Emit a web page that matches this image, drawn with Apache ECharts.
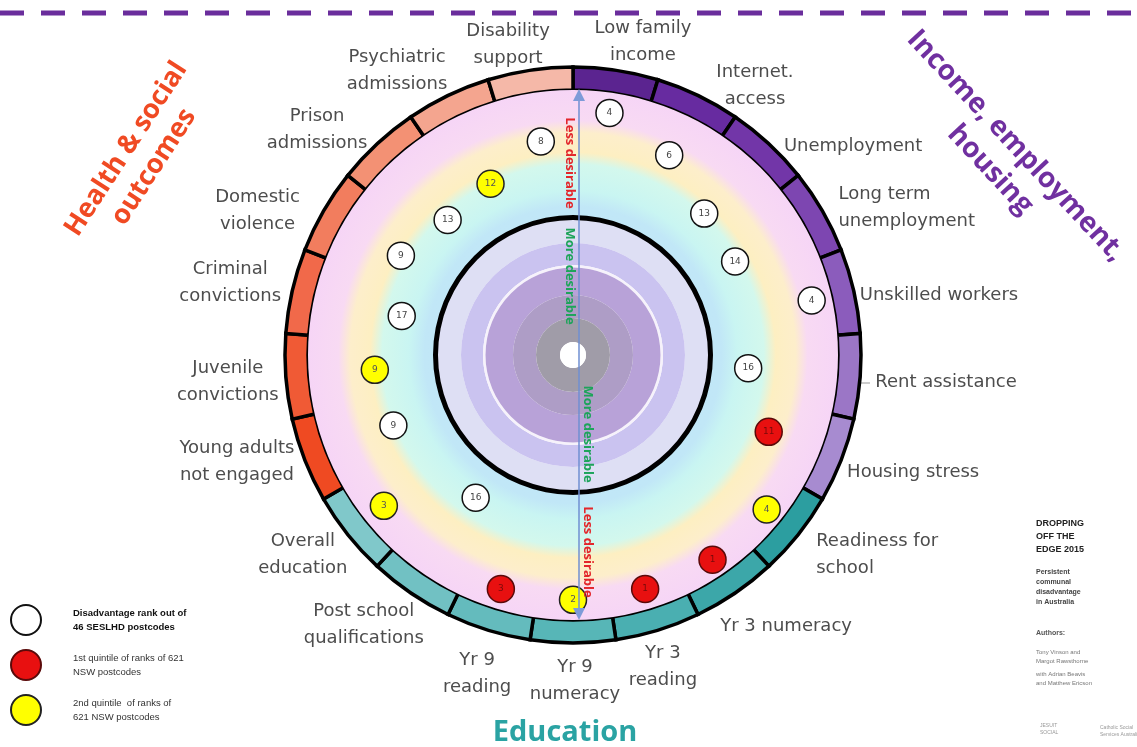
<!DOCTYPE html>
<html>
<head>
<meta charset="utf-8">
<script src="https://cdn.jsdelivr.net/npm/echarts@6/dist/echarts.min.js"></script>
<style>
html,body{margin:0;padding:0;background:#fff}
#main{width:1137px;height:747px}
</style>
</head>
<body>
<div id="main"></div>
<script>
var chartDom = document.getElementById('main');
var myChart = echarts.init(chartDom, null, { width: 1137, height: 747 });

// 21 indicators, clockwise from the top
var indicators = [
    'Low family\nincome', 'Internet.\naccess', 'Unemployment', 'Long term\nunemployment',
    'Unskilled workers', 'Rent assistance', 'Housing stress',
    'Readiness for\nschool', 'Yr 3 numeracy', 'Yr 3\nreading', 'Yr 9\nnumeracy',
    'Yr 9\nreading', 'Post school\nqualifications', 'Overall\neducation',
    'Young adults\nnot engaged', 'Juvenile\nconvictions', 'Criminal\nconvictions',
    'Domestic\nviolence', 'Prison\nadmissions', 'Psychiatric\nadmissions', 'Disability\nsupport'
];
// disadvantage rank out of 46 (label in the circle)
var ranks = ['4', '6', '13', '14', '4', '16', '11', '4', '1', '1', '2', '3', '16', '3',
    '9', '9', '17', '9', '13', '12', '8'];
// radial position of each circle (0 = centre, 100 = outer edge of ring)
var positions = [85, 77, 67, 65, 85, 61, 73, 86, 86, 85, 85, 85, 60, 84,
    67, 69, 61, 69, 64, 66, 75];
// 0 = none, 1 = 1st NSW quintile, 2 = 2nd NSW quintile
var quintile = [0, 0, 0, 0, 0, 0, 1, 2, 1, 1, 2, 1, 0, 2, 0, 2, 0, 0, 0, 2, 0];
var legendNames = [
    'Disadvantage rank out of\n46 SESLHD postcodes',
    '1st quintile of ranks of 621\nNSW postcodes',
    '2nd quintile  of ranks of\n621 NSW postcodes'
];

var ringColors = [
    '#5b2490', '#672ba0', '#7236a8', '#7d46b1', '#8b5cbc', '#9b76c6', '#a78bd0',
    '#2c9ea0', '#3ca7a9', '#4aafb1', '#57b6b7', '#64bbbd', '#71c1c3', '#80c8ca',
    '#ef4a22', '#f05a35', '#f1694a', '#f27d5e', '#f39174', '#f4a58f', '#f5b8a8'
];
// label placement around the ring (alignment + nudge from the ring edge)
var labelAlign = ['center', 'center', 'left', 'left', 'left', 'left', 'left', 'left', 'left',
    'center', 'center', 'center', 'center', 'center', 'center', 'center', 'center',
    'center', 'center', 'center', 'center'];
var labelNudge = [[27, -28], [57, -10], [15, 2], [16, -3], [6, 4], [15, 6], [6, 12],
    [18, 20], [-15, 33], [5, 37], [2, 38], [-11, 44], [-47, 32], [-45, 20],
    [-68, 2], [-58, 5], [-62, -8], [-66, 0], [-60, -14], [-51, -25], [-22, -25]];

var dotFill = ['#ffffff', '#e81010', '#ffff00'];
var dotBorder = ['#111', '#5a0a0a', '#222'];
var dotText = ['#444', '#7a0a0a', '#555'];

var cx = 573, cy = 355;

function ring(r0, r1, color) {
    return {
        type: 'pie', center: [cx, cy], radius: [r0, r1], silent: true,
        label: { show: false }, labelLine: { show: false },
        itemStyle: { borderWidth: 0 }, emphasis: { disabled: true },
        data: [{ value: 1, itemStyle: { color: color } }]
    };
}

var bandGradient = {
    type: 'radial', x: 0.5, y: 0.5, r: 0.5,
    colorStops: [
        { offset: 0, color: '#bde4f7' },
        { offset: 0.56, color: '#c1e7f7' },
        { offset: 0.62, color: '#c9f5f2' },
        { offset: 0.72, color: '#d3f8ed' },
        { offset: 0.765, color: '#fdefc2' },
        { offset: 0.84, color: '#fdeecb' },
        { offset: 0.885, color: '#f8daf3' },
        { offset: 1, color: '#f6d5f6' }
    ]
};

var series = [
    ring(138, 265, bandGradient),
    ring(112, 137, '#dedff4'),
    ring(90, 112, '#cac3f0'),
    ring(87.5, 90, '#f6f2fb'),
    ring(60, 87.5, '#b8a2d8'),
    ring(37, 60, '#ae9dc6'),
    ring(13, 37, '#a09ca8'),
    ring(0, 13, '#ffffff'),
    ring(135, 140, '#000000'),
    {
        type: 'bar', coordinateSystem: 'polar', stack: 'ring', silent: true,
        barCategoryGap: '0%',
        itemStyle: { color: 'transparent' },
        data: indicators.map(function () { return 92; })
    },
    {
        type: 'bar', coordinateSystem: 'polar', stack: 'ring', silent: true,
        barCategoryGap: '0%',
        data: indicators.map(function (d, i) {
            return { value: 8, itemStyle: { color: ringColors[i], borderColor: '#000', borderWidth: 3.5 } };
        })
    },
    {
        // indicator names around the ring
        type: 'scatter', coordinateSystem: 'polar', silent: true,
        symbolSize: 0,
        itemStyle: { opacity: 1 },
        data: indicators.map(function (d, i) {
            return {
                value: [100, i], name: d,
                label: { align: labelAlign[i], offset: labelNudge[i] }
            };
        }),
        label: {
            show: true, position: 'inside', formatter: '{b}',
            verticalAlign: 'middle',
            fontSize: 18, lineHeight: 27, color: '#4d4d4d', fontFamily: 'DejaVu Sans'
        },
        z: 6
    }
];

[0, 1, 2].forEach(function (q) {
    var pts = [];
    positions.forEach(function (p, i) {
        if (quintile[i] === q) pts.push({ value: [p, i], name: ranks[i] });
    });
    series.push({
        name: legendNames[q],
        type: 'scatter', coordinateSystem: 'polar',
        symbol: 'circle', symbolSize: 27,
        itemStyle: { color: dotFill[q], borderColor: dotBorder[q], borderWidth: 1.5, opacity: 1 },
        label: {
            show: true, position: 'inside', formatter: '{b}',
            fontSize: 9, color: dotText[q], fontFamily: 'DejaVu Sans'
        },
        data: pts,
        z: 5
    });
});

var option = {
    animation: false,
    backgroundColor: '#ffffff',
    textStyle: { fontFamily: 'DejaVu Sans' },
    polar: { center: [cx, cy], radius: 288 },
    angleAxis: {
        type: 'category',
        data: indicators,
        startAngle: 90,
        clockwise: true,
        boundaryGap: true,
        axisLine: { show: false },
        axisTick: { show: false },
        splitLine: { show: false },
        axisLabel: { show: false }
    },
    radiusAxis: {
        type: 'value', min: 0, max: 100,
        axisLine: { show: false }, axisTick: { show: false },
        axisLabel: { show: false }, splitLine: { show: false }
    },
    legend: {
        orient: 'vertical', left: 5, top: 599,
        itemWidth: 30, itemHeight: 30, itemGap: 13,
        icon: 'circle',
        selectedMode: false,
        data: legendNames,
        formatter: function (name) {
            return name === legendNames[0] ? '{b|' + name + '}' : '{n|' + name + '}';
        },
        textStyle: {
            padding: [0, 0, 0, 27],
            rich: {
                b: { fontSize: 9.5, fontWeight: 'bold', color: '#111', lineHeight: 14, fontFamily: 'Liberation Sans' },
                n: { fontSize: 9.5, color: '#333', lineHeight: 14, fontFamily: 'Liberation Sans' }
            }
        }
    },
    graphic: [
        {
            type: 'line', shape: { x1: 0, y1: 13, x2: 1137, y2: 13 },
            style: { stroke: '#6a2d9c', lineWidth: 5, lineDash: [24, 17] }
        },
        {
            type: 'line', shape: { x1: 861, y1: 383, x2: 870, y2: 383 },
            style: { stroke: '#999', lineWidth: 1 }
        },
        {
            type: 'line', z: 20, shape: { x1: 579, y1: 96, x2: 579, y2: 612 },
            style: { stroke: '#6f8fd2', lineWidth: 1.5 }
        },
        {
            type: 'polygon', z: 20, shape: { points: [[573, 101], [585, 101], [579, 89]] },
            style: { fill: '#7d9bd8' }
        },
        {
            type: 'polygon', z: 20, shape: { points: [[573, 608], [585, 608], [579, 620]] },
            style: { fill: '#7d9bd8' }
        },
        {
            type: 'text', z: 20, x: 570, y: 163, rotation: -Math.PI / 2,
            style: { text: 'Less desirable', fill: '#e3262b', font: 'bold 13px "Open Sans"', align: 'center', verticalAlign: 'middle' }
        },
        {
            type: 'text', z: 20, x: 570, y: 276, rotation: -Math.PI / 2,
            style: { text: 'More desirable', fill: '#1da45a', font: 'bold 13px "Open Sans"', align: 'center', verticalAlign: 'middle' }
        },
        {
            type: 'text', z: 20, x: 588, y: 434, rotation: -Math.PI / 2,
            style: { text: 'More desirable', fill: '#1da45a', font: 'bold 13px "Open Sans"', align: 'center', verticalAlign: 'middle' }
        },
        {
            type: 'text', z: 20, x: 588, y: 552, rotation: -Math.PI / 2,
            style: { text: 'Less desirable', fill: '#e3262b', font: 'bold 13px "Open Sans"', align: 'center', verticalAlign: 'middle' }
        },
        {
            type: 'text', x: 140, y: 158, rotation: 0.995,
            style: { text: 'Health & social\noutcomes', fill: '#f04a23', font: 'bold 27px "Open Sans"', lineHeight: 33, align: 'center', verticalAlign: 'middle' }
        },
        {
            type: 'text', x: 1003, y: 158, rotation: -0.82,
            style: { text: 'Income, employment,\nhousing', fill: '#7030a0', font: 'bold 28px "Open Sans"', lineHeight: 35, align: 'center', verticalAlign: 'middle' }
        },
        {
            type: 'text', x: 565, y: 733,
            style: { text: 'Education', fill: '#2aa3a3', font: 'bold 29px "Open Sans"', align: 'center', verticalAlign: 'middle' }
        },
        {
            type: 'text', x: 1036, y: 517,
            style: { text: 'DROPPING\nOFF THE\nEDGE 2015', fill: '#222', font: 'bold 9px "Liberation Sans"', lineHeight: 13 }
        },
        {
            type: 'text', x: 1036, y: 567,
            style: { text: 'Persistent\ncommunal\ndisadvantage\nin Australia', fill: '#444', font: 'bold 7px "Liberation Sans"', lineHeight: 10 }
        },
        {
            type: 'text', x: 1036, y: 630,
            style: { text: 'Authors:', fill: '#555', font: 'bold 7px "Liberation Sans"' }
        },
        {
            type: 'text', x: 1036, y: 648,
            style: { text: 'Tony Vinson and\nMargot Rawsthorne', fill: '#777', font: '6px "Liberation Sans"', lineHeight: 9 }
        },
        {
            type: 'text', x: 1036, y: 670,
            style: { text: 'with Adrian Beavis\nand Matthew Ericson', fill: '#777', font: '6px "Liberation Sans"', lineHeight: 9 }
        },
        {
            type: 'text', x: 1040, y: 722,
            style: { text: 'JESUIT\nSOCIAL', fill: '#999', font: '5px "Liberation Sans"', lineHeight: 7 }
        },
        {
            type: 'text', x: 1100, y: 724,
            style: { text: 'Catholic Social\nServices Australia', fill: '#999', font: '5px "Liberation Sans"', lineHeight: 7 }
        }
    ],
    series: series
};

option && myChart.setOption(option);
</script>
</body>
</html>
